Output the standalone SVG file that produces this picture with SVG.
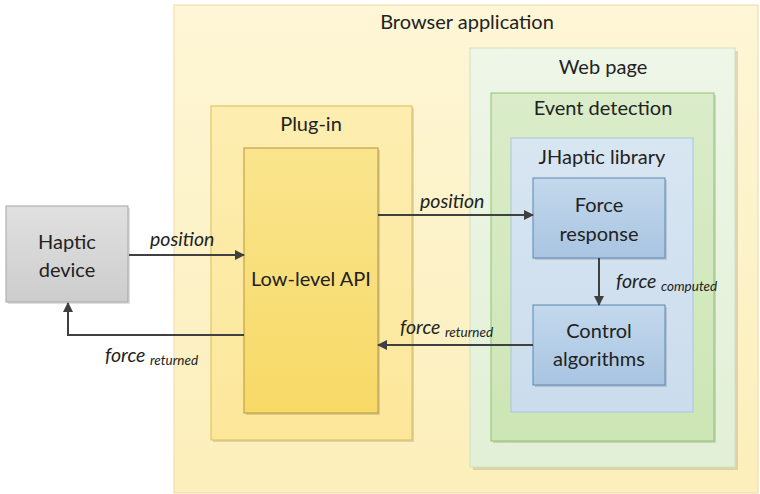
<svg xmlns="http://www.w3.org/2000/svg" width="760" height="494" viewBox="0 0 760 494">
<defs>
<linearGradient id="gBrowser" x1="0" y1="0" x2="0" y2="1"><stop offset="0" stop-color="#fef6d6"/><stop offset="1" stop-color="#fcefbb"/></linearGradient>
<linearGradient id="gPlug" x1="0" y1="0" x2="0" y2="1"><stop offset="0" stop-color="#fdeeb0"/><stop offset="1" stop-color="#fce79a"/></linearGradient>
<linearGradient id="gApi" x1="0" y1="0" x2="0" y2="1"><stop offset="0" stop-color="#fae58e"/><stop offset="1" stop-color="#f7d966"/></linearGradient>
<linearGradient id="gWeb" x1="0" y1="0" x2="0" y2="1"><stop offset="0" stop-color="#eef6e8"/><stop offset="1" stop-color="#e2f0d6"/></linearGradient>
<linearGradient id="gEvent" x1="0" y1="0" x2="0" y2="1"><stop offset="0" stop-color="#daecc9"/><stop offset="1" stop-color="#cde6b5"/></linearGradient>
<linearGradient id="gLib" x1="0" y1="0" x2="0" y2="1"><stop offset="0" stop-color="#d8e6f2"/><stop offset="1" stop-color="#cbdcec"/></linearGradient>
<linearGradient id="gBlue" x1="0" y1="0" x2="0" y2="1"><stop offset="0" stop-color="#c3d8ec"/><stop offset="1" stop-color="#a9c5e2"/></linearGradient>
<linearGradient id="gGray" x1="0" y1="0" x2="0" y2="1"><stop offset="0" stop-color="#e0e0e0"/><stop offset="1" stop-color="#cdcdcd"/></linearGradient>
<marker id="arr" viewBox="0 0 10 10" refX="9" refY="5" markerWidth="10" markerHeight="10" markerUnits="userSpaceOnUse" orient="auto">
<path d="M0,0 L10,5 L0,10 z" fill="#404040"/>
</marker>
</defs>
<style>
.t{font-family:Lato,"Open Sans","Liberation Sans",sans-serif;font-size:20px;fill:#222;text-anchor:middle}
.l{font-family:Lato,"Open Sans","Liberation Sans",sans-serif;font-size:19.5px;font-style:italic;fill:#222}
.s{font-size:13.5px}
.sh{fill:#000;opacity:0.12}
.c{fill:none;stroke:#404040;stroke-width:2;marker-end:url(#arr)}
</style>
<rect x="0" y="0" width="760" height="494" fill="#ffffff"/>
<g id="browser">
<rect x="174" y="5" width="584" height="488" fill="url(#gBrowser)" stroke="#efd9a6" stroke-width="1"/>
<text class="t" x="467" y="29">Browser application</text>
</g>
<g id="webpage">
<rect class="sh" x="473" y="51" width="265" height="419"/>
<rect x="470" y="48" width="265" height="419" fill="url(#gWeb)" stroke="#cfe0c2" stroke-width="1"/>
<text class="t" x="603" y="74">Web page</text>
</g>
<g id="eventdetection">
<rect class="sh" x="493" y="95" width="223" height="348"/>
<rect x="491" y="93" width="223" height="348" fill="url(#gEvent)" stroke="#8fc36d" stroke-width="1"/>
<text class="t" x="603" y="115">Event detection</text>
</g>
<g id="jhaptic">
<rect x="511" y="138" width="182" height="274" fill="url(#gLib)" stroke="#a9c4de" stroke-width="1"/>
<text class="t" x="602" y="164">JHaptic library</text>
</g>
<g id="plugin">
<rect class="sh" x="213" y="108" width="201" height="334"/>
<rect x="211" y="106" width="201" height="334" fill="url(#gPlug)" stroke="#d9bd55" stroke-width="1"/>
<text class="t" x="311" y="131">Plug-in</text>
</g>
<g id="lowlevel">
<rect class="sh" x="246" y="150" width="134" height="265"/>
<rect x="244" y="148" width="134" height="265" fill="url(#gApi)" stroke="#b39540" stroke-width="1"/>
<text class="t" x="311" y="286">Low-level API</text>
</g>
<g id="forceresponse">
<rect class="sh" x="535" y="180" width="132" height="80"/>
<rect x="533" y="178" width="132" height="80" fill="url(#gBlue)" stroke="#5b87b2" stroke-width="1"/>
<text class="t" x="599" y="212">Force</text>
<text class="t" x="599" y="241">response</text>
</g>
<g id="control">
<rect class="sh" x="535" y="307" width="132" height="80"/>
<rect x="533" y="305" width="132" height="80" fill="url(#gBlue)" stroke="#5b87b2" stroke-width="1"/>
<text class="t" x="599" y="338">Control</text>
<text class="t" x="599" y="366">algorithms</text>
</g>
<g id="haptic">
<rect class="sh" x="8" y="208" width="122" height="96"/>
<rect x="6" y="206" width="122" height="96" fill="url(#gGray)" stroke="#a6a6a6" stroke-width="1"/>
<text class="t" x="67" y="249">Haptic</text>
<text class="t" x="67" y="277">device</text>
</g>
<g id="connectors">
<line class="c" x1="129" y1="255" x2="244" y2="255"/>
<text class="l" x="150" y="246">position</text>
<line class="c" x1="378" y1="215" x2="533" y2="215"/>
<text class="l" x="420" y="208">position</text>
<line class="c" x1="599" y1="258" x2="599" y2="305"/>
<text class="l" x="616" y="288">force <tspan class="s" dy="3">computed</tspan></text>
<line class="c" x1="533" y1="345" x2="378" y2="345"/>
<text class="l" x="400" y="334">force <tspan class="s" dy="3">returned</tspan></text>
<polyline class="c" points="244,335 68,335 68,303"/>
<text class="l" x="105" y="362">force <tspan class="s" dy="3">returned</tspan></text>
</g>
</svg>
